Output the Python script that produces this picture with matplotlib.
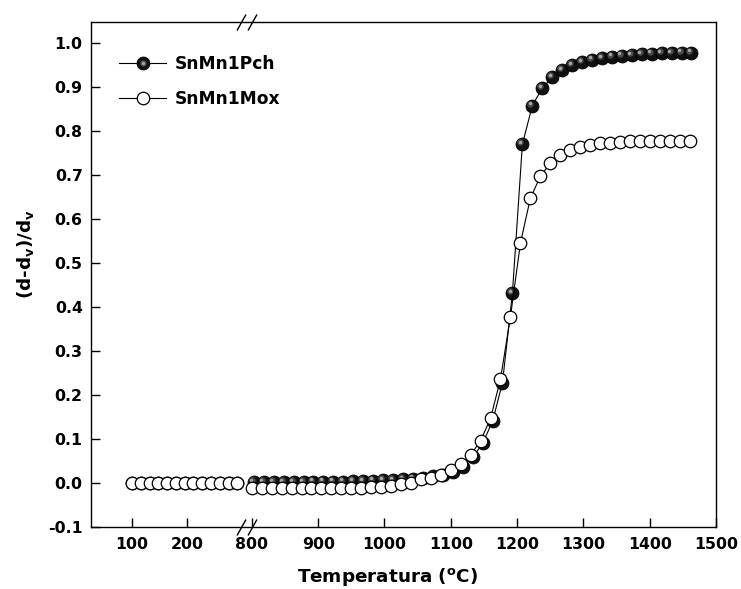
import numpy as np
import matplotlib
matplotlib.use('Agg')
import matplotlib.pyplot as plt
from matplotlib.transforms import ScaledTranslation, blended_transform_factory

# low temperature segment (left of the axis break)
low_x = [100, 116, 132, 148, 164, 180, 196, 212, 228, 244, 260, 276, 292]
pch_low = [0.0, 0.0, 0.0, 0.0, 0.0, 0.0, 0.0, 0.0, 0.0, 0.0, 0.0, 0.0, 0.0]
mox_low = [0.0, 0.0, 0.0, 0.0, 0.0, 0.0, 0.0, 0.0, 0.0, 0.0, 0.0, 0.0, 0.0]

# high temperature segment (right of the break)
pch_x = [803, 818, 833, 848, 863, 878, 893, 908, 923, 938, 953, 968, 983, 998,
         1013, 1028, 1043, 1058, 1073, 1088, 1103, 1118, 1133, 1148, 1163, 1178,
         1193, 1208, 1223, 1238, 1253, 1268, 1283, 1298, 1313, 1328, 1343, 1358,
         1373, 1388, 1403, 1418, 1433, 1448, 1463]
pch_y = [0.002, 0.002, 0.002, 0.002, 0.002, 0.002, 0.003, 0.003, 0.003, 0.003,
         0.004, 0.004, 0.005, 0.006, 0.007, 0.008, 0.010, 0.012, 0.015, 0.019,
         0.025, 0.037, 0.058, 0.090, 0.140, 0.228, 0.432, 0.770, 0.858, 0.898,
         0.922, 0.939, 0.950, 0.957, 0.962, 0.966, 0.969, 0.971, 0.973, 0.975,
         0.976, 0.977, 0.977, 0.978, 0.978]

mox_x = [800, 815, 830, 845, 860, 875, 890, 905, 920, 935, 950, 965, 980, 995,
         1010, 1025, 1040, 1055, 1070, 1085, 1100, 1115, 1130, 1145, 1160, 1175,
         1190, 1205, 1220, 1235, 1250, 1265, 1280, 1295, 1310, 1325, 1340, 1355,
         1370, 1385, 1400, 1415, 1430, 1445, 1460]
mox_y = [-0.012, -0.012, -0.012, -0.012, -0.012, -0.012, -0.012, -0.012, -0.011,
         -0.011, -0.011, -0.011, -0.010, -0.009, -0.007, -0.003, 0.001, 0.008,
         0.012, 0.018, 0.029, 0.043, 0.064, 0.096, 0.147, 0.236, 0.378, 0.545,
         0.647, 0.697, 0.727, 0.745, 0.756, 0.764, 0.769, 0.772, 0.774, 0.776,
         0.777, 0.777, 0.778, 0.778, 0.778, 0.778, 0.777]

x_ticks = [100, 200, 800, 900, 1000, 1100, 1200, 1300, 1400, 1500]
y_ticks = [-0.1, 0.0, 0.1, 0.2, 0.3, 0.4, 0.5, 0.6, 0.7, 0.8, 0.9, 1.0]

# broken x axis: the 25-309 range is squeezed in front of 795-1500
X_KNOTS = [-1000, 309, 795, 5000]
U_KNOTS = [-291.8, 792.4, 795, 5000]


def fwd(x):
    return np.interp(x, X_KNOTS, U_KNOTS)


def inv(u):
    return np.interp(u, U_KNOTS, X_KNOTS)


plt.rcParams['font.family'] = ['DejaVu Sans']
plt.rcParams['font.weight'] = 'bold'
plt.rcParams['mathtext.default'] = 'regular'

fig = plt.figure(figsize=(7.41, 5.89), dpi=100)
ax = fig.add_axes([0.1228, 0.1053, 0.8435, 0.8573])
ax.set_xscale('function', functions=(fwd, inv))

hl1 = ax.transData + ScaledTranslation(-0.02, 0.02, fig.dpi_scale_trans)
hl2 = ax.transData + ScaledTranslation(-0.024, 0.024, fig.dpi_scale_trans)


def spheres(x, y):
    ln, = ax.plot(x, y, '-', color='k', lw=0.8, marker='o', ms=9.3,
                  mfc='#111111', mec='k', mew=0.6, zorder=2)
    h1, = ax.plot(x, y, ls='none', marker='o', ms=4.6, mfc='#4a4a4a',
                  mec='none', transform=hl1, zorder=2.1)
    h2, = ax.plot(x, y, ls='none', marker='o', ms=2.4, mfc='#a8a8a8',
                  mec='none', transform=hl2, zorder=2.2)
    return ln, h1, h2


def rings(x, y):
    ln, = ax.plot(x, y, '-', color='k', lw=0.8, marker='o', ms=9.0,
                  mfc='white', mec='k', mew=0.9, zorder=3)
    return ln


spheres(low_x, pch_low)
rings(low_x, mox_low)
pch_handle = spheres(pch_x, pch_y)
mox_handle = rings(mox_x, mox_y)

ax.set_xlim(25.4, 1500)
ax.set_ylim(-0.1, 1.048)
ax.set_xticks(x_ticks)
ax.set_xticklabels([str(t) for t in x_ticks])
ax.set_xticks([], minor=True)
ax.set_yticks(y_ticks)
ax.set_yticklabels(['%.1f' % t for t in y_ticks])

ax.tick_params(axis='both', direction='in', length=6.5, width=1,
               labelsize=11.3, top=False, right=False)
ax.tick_params(axis='x', pad=7.5)
ax.tick_params(axis='y', pad=6)
for s in ax.spines.values():
    s.set_linewidth(1.0)

# break marks on bottom and top spines
brk = blended_transform_factory(ax.transData, ax.transAxes)
for yb in (0, 1):
    ax.plot([298, 800], [yb, yb], ls='none', marker=[(-0.56, -1), (0.56, 1)],
            ms=11.5, mec='k', mew=1.0, transform=brk, clip_on=False, zorder=5)

ax.set_xlabel('Temperatura ($^{o}$C)', fontsize=13.2, fontweight='bold')
ax.xaxis.set_label_coords(0.474, -0.078)
ax.set_ylabel('(d-d$_{v}$)/d$_{v}$', fontsize=13.2, fontweight='bold')
ax.yaxis.set_label_coords(-0.088, 0.54)

ax.legend([pch_handle, mox_handle], ['SnMn1Pch', 'SnMn1Mox'],
          loc='upper left', bbox_to_anchor=(0.045, 0.935), frameon=False,
          prop={'size': 12.3, 'weight': 'bold'}, borderpad=0, borderaxespad=0,
          handlelength=2.75, handletextpad=0.5, labelspacing=1.0)

fig.savefig('out.png', dpi=100)
